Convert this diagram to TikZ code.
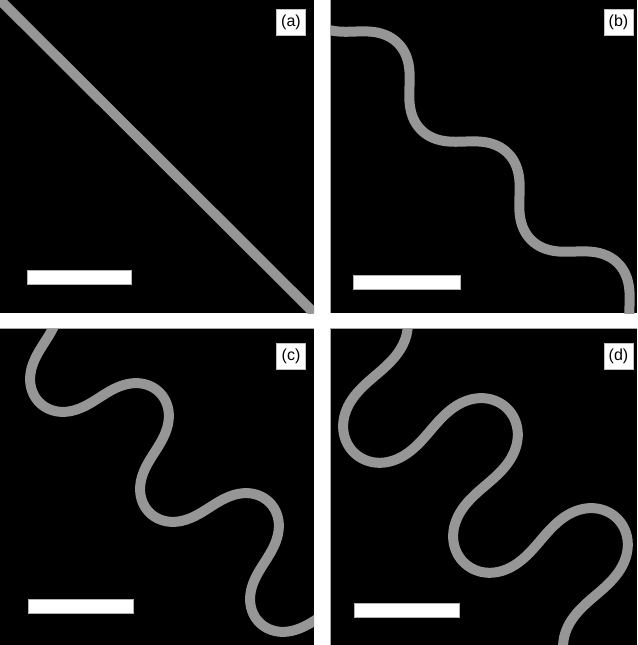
\documentclass[tikz,border=0pt]{standalone}
\usepackage{fontspec}
\setmainfont{Liberation Sans}
\definecolor{wirecol}{RGB}{150,150,150}
\begin{document}
\begin{tikzpicture}[x=1pt,y=-1pt,
  declare function={
    ub(\p)=156.3+24.757*(\p*pi/180)+2.3446*sin(2*\p)+0.0168*sin(4*\p);
    vb(\p)=-5-22.224*cos(\p)-0.2167*cos(3*\p);
    uc(\p)=80.6+24.757*(\p*pi/180)+8.224*sin(2*\p)+0.1676*sin(4*\p)+0.0019*sin(6*\p);
    vc(\p)=21.2-44.690*cos(\p)-1.2887*cos(3*\p)-0.0184*cos(5*\p);
    ud(\p)=104.6+24.757*(\p*pi/180)+15.627*sin(2*\p)+0.4878*sin(4*\p)+0.0076*sin(6*\p);
    vd(\p)=-1.4-66.635*cos(\p)-3.0437*cos(3*\p)-0.066*cos(5*\p);
  },
  wire/.style={draw=wirecol, line width=10pt},
  bar/.style={fill=white, draw=gray!60, line width=0.8pt},
  tag/.style={fill=white, draw=gray!50, line width=0.4pt, inner sep=0pt,
    font=\fontsize{16}{16}\selectfont, minimum height=26pt, minimum width=29pt},
  edge/.style={draw=gray!70, line width=0.7pt}
]
\useasboundingbox (0,0) rectangle (637,645);
\fill[white] (0,0) rectangle (637,645);
% panel (a)
\begin{scope}
  \clip (0,0) rectangle (314,313);
  \fill[black] (0,0) rectangle (314,313);
  \draw[wire] (0,0) -- (314,313);
\end{scope}
% panel (b)
\begin{scope}[shift={(330,0)}]
  \clip (0,0) rectangle (307,313);
  \fill[black] (0,0) rectangle (307,313);
  \draw[wire] plot[domain=-420:720, samples=500, variable=\x]
    ({(ub(\x)+vb(\x))/sqrt(2)}, {(ub(\x)-vb(\x))/sqrt(2)});
  \draw[edge] (0.3,0) -- (0.3,313);
\end{scope}
% panel (c)
\begin{scope}[shift={(0,328)}]
  \clip (0,0) rectangle (314,317);
  \fill[black] (0,0) rectangle (314,317);
  \draw[wire] plot[domain=-250:900, samples=600, variable=\x]
    ({(uc(\x)+vc(\x))/sqrt(2)}, {(uc(\x)-vc(\x))/sqrt(2)});
  \draw[edge] (0,0.3) -- (314,0.3);
\end{scope}
% panel (d)
\begin{scope}[shift={(330,328)}]
  \clip (0,0) rectangle (307,317);
  \fill[black] (0,0) rectangle (307,317);
  \draw[wire] plot[domain=-300:840, samples=600, variable=\x]
    ({(ud(\x)+vd(\x))/sqrt(2)}, {(ud(\x)-vd(\x))/sqrt(2)});
  \draw[edge] (0,0.3) -- (307,0.3);
  \draw[edge] (0.3,0) -- (0.3,317);
\end{scope}
% scale bars
\draw[bar] (27,270) rectangle (131,284);
\draw[bar] (353,275) rectangle (460,289);
\draw[bar] (28,599) rectangle (133,613);
\draw[bar] (354,603) rectangle (459,617);
% labels
\node[tag] (la) at (291,22) {(a)};
\node[tag] (lb) at (618.5,22) {(b)};
\node[tag] (lc) at (291,356) {(c)};
\node[tag] (ld) at (618.5,356) {(d)};
\end{tikzpicture}
\end{document}
